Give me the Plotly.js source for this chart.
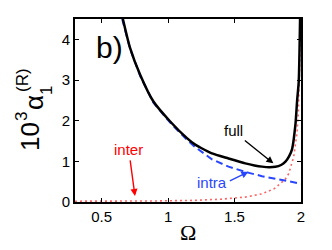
<!DOCTYPE html>
<html><head><meta charset="utf-8">
<script src="https://cdn.plot.ly/plotly-3.0.1.min.js"></script>
<style>html,body{margin:0;padding:0;background:#fff}#c{width:332px;height:250px}</style>
</head><body><div id="c"></div>
<script>
var fullOmega = [0.66,0.714,0.79,0.89,1.016,1.142,1.204,1.242,1.33,1.455,1.581,1.65,1.707,1.76,1.807,1.85,1.883,1.91,1.933,1.958,1.971,1.983,1.993];
var fullVal   = [4.5,3.79,3.13,2.47,1.98,1.57,1.41,1.34,1.195,1.07,0.95,0.9,0.87,0.855,0.865,0.91,0.99,1.12,1.3,1.9,2.5,2.96,4.5];
var intraOmega = [0.655,0.714,0.79,0.89,1.016,1.142,1.204,1.33,1.455,1.581,1.707,1.832,1.958,2.0];
var intraVal   = [4.5,3.77,3.1,2.44,1.95,1.53,1.35,1.05,0.87,0.74,0.635,0.55,0.47,0.45];
var interOmega = [0.3,0.6,0.9,1.2,1.4,1.58,1.707,1.8,1.832,1.88,1.908,1.945,1.97,1.98,1.99,1.996];
var interVal   = [0.02,0.02,0.025,0.04,0.07,0.12,0.2,0.33,0.41,0.55,0.7,1.11,1.7,2.2,3.3,4.5];
var xTicks = [0.5,1,1.5,2];
var xTickText = ['0.5','1','1.5','2'];
var yTicks = [0,1,2,3,4];
var yTickText = ['0','1','2','3','4'];

var F = 'Liberation Sans, Arial, Helvetica, sans-serif';
var traces = [
  {x: interOmega, y: interVal, mode:'lines', line:{color:'rgb(255,100,100)', width:1.6, dash:'2px,3px'}, hoverinfo:'skip'},
  {x: intraOmega, y: intraVal, mode:'lines', line:{color:'rgb(40,70,255)', width:2, dash:'7px,4px'}, hoverinfo:'skip'},
  {x: fullOmega, y: fullVal, mode:'lines', line:{color:'#000', width:2.5, shape:'spline', smoothing:0.6}, hoverinfo:'skip'}
];
function P(px){return (px-75)/226;}
function Q(py){return (202-py)/183;}
var ann = [
  {xref:'x', yref:'y', x:0.556, y:3.79, text:'b)', showarrow:false, font:{family:F, size:30, color:'#000'}},
  {xref:'x', yref:'y', x:1.489, y:1.75, text:'full', showarrow:false, font:{family:F, size:15, color:'#000'}},
  {xref:'x', yref:'y', x:1.331, y:0.49, text:'intra', showarrow:false, font:{family:F, size:15, color:'rgb(40,70,255)'}},
  {xref:'x', yref:'y', x:0.699, y:1.30, text:'inter', showarrow:false, font:{family:F, size:15, color:'rgb(255,0,0)'}},
  {xref:'x', yref:'y', x:1.792, y:0.95, ax:-30, ay:-24, text:'', showarrow:true, arrowhead:2, arrowsize:1, arrowwidth:1.4, arrowcolor:'#000'},
  {xref:'x', yref:'y', x:1.604, y:0.745, ax:-20, ay:10, text:'', showarrow:true, arrowhead:2, arrowsize:1, arrowwidth:1.4, arrowcolor:'rgb(40,70,255)'},
  {xref:'x', yref:'y', x:0.751, y:0.15, ax:-5, ay:-37, text:'', showarrow:true, arrowhead:2, arrowsize:1, arrowwidth:1.4, arrowcolor:'rgb(255,0,0)'},
  {xref:'paper', yref:'paper', x:P(188), y:Q(232), text:'Ω', showarrow:false, xanchor:'center', yanchor:'middle', font:{family:'Liberation Serif, Times New Roman, serif', size:22, color:'#000'}},
  {xref:'paper', yref:'paper', x:P(30), y:Q(137), text:'10', textangle:-90, showarrow:false, xanchor:'center', yanchor:'middle', font:{family:F, size:26, color:'#000'}},
  {xref:'paper', yref:'paper', x:P(22), y:Q(117), text:'3', textangle:-90, showarrow:false, xanchor:'center', yanchor:'middle', font:{family:F, size:17, color:'#000'}},
  {xref:'paper', yref:'paper', x:P(34), y:Q(103), text:'α', textangle:-90, showarrow:false, xanchor:'center', yanchor:'middle', font:{family:F, size:26, color:'#000'}},
  {xref:'paper', yref:'paper', x:P(46), y:Q(91), text:'1', textangle:-90, showarrow:false, xanchor:'center', yanchor:'middle', font:{family:F, size:17, color:'#000'}},
  {xref:'paper', yref:'paper', x:P(22), y:Q(80), text:'(R)', textangle:-90, showarrow:false, xanchor:'center', yanchor:'middle', font:{family:F, size:17, color:'#000'}}
];
var layout = {
  width:332, height:250, margin:{l:75, r:31, t:19, b:48},
  paper_bgcolor:'#fff', plot_bgcolor:'#fff', showlegend:false,
  font:{family:F, size:15, color:'#000'},
  xaxis:{range:[0.3,2], tickvals:xTicks, ticktext:xTickText, ticks:'inside', ticklen:4, tickwidth:1, tickcolor:'#000',
    showline:true, linewidth:2, linecolor:'#000', mirror:'ticks', showgrid:false, zeroline:false,
    tickfont:{family:F, size:15, color:'#000'}},
  yaxis:{range:[0,4.5], tickvals:yTicks, ticktext:yTickText, ticks:'inside', ticklen:4, tickwidth:1, tickcolor:'#000',
    showline:true, linewidth:2, linecolor:'#000', mirror:'ticks', showgrid:false, zeroline:false,
    tickfont:{family:F, size:15, color:'#000'}},
  annotations: ann
};
Plotly.newPlot('c', traces, layout, {staticPlot:true, displayModeBar:false});
</script></body></html>
